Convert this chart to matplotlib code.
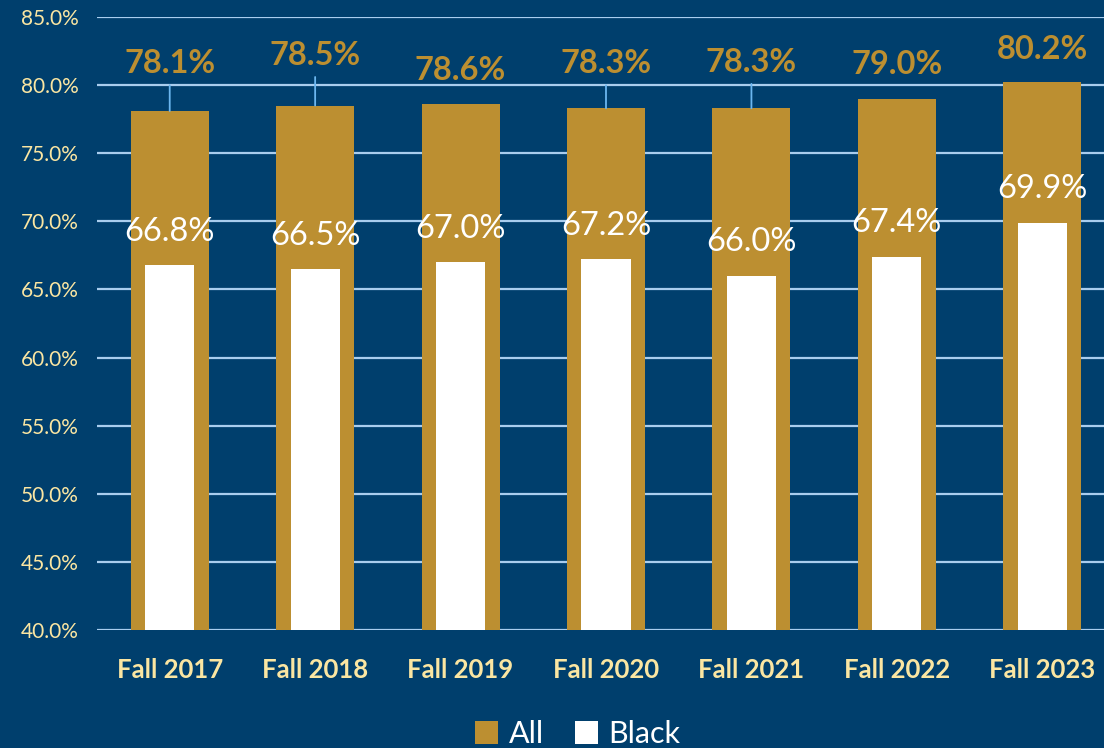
import matplotlib
matplotlib.use("Agg")
import matplotlib.pyplot as plt
from matplotlib.patches import Patch

categories = ["Fall 2017", "Fall 2018", "Fall 2019", "Fall 2020", "Fall 2021", "Fall 2022", "Fall 2023"]
all_vals = [78.1, 78.5, 78.6, 78.3, 78.3, 79.0, 80.2]
black_vals = [66.8, 66.5, 67.0, 67.2, 66.0, 67.4, 69.9]
yticks = [40, 45, 50, 55, 60, 65, 70, 75, 80, 85]

# label offsets (points above bar top) for the "All" labels, as placed in the original
all_label_offsets = [34, 36, 24.5, 32, 33, 24.5, 24]

BG = "#003F6D"
GOLD = "#BC8F31"
GRID = "#A9CDEE"
TICK = "#FBE6A2"
LEADER = "#6CB7F0"
FONT = "Lato"

plt.rcParams['font.family'] = [FONT, 'DejaVu Sans']

fig = plt.figure(figsize=(11.04, 7.48), dpi=100, facecolor=BG)
ax = fig.add_axes([97/1104, 1 - 630/748, 1 - 97/1104, (630 - 17)/748])
ax.set_facecolor(BG)

x = list(range(len(categories)))
ax.bar(x, [v - 40 for v in all_vals], bottom=40, width=0.536, color=GOLD, zorder=3)
ax.bar(x, [v - 40 for v in black_vals], bottom=40, width=0.337, color="white", zorder=4)

ax.set_ylim(40, 85)
ax.set_xlim(-0.5, 6.5 - 11/145.5)
ax.set_yticks(yticks)
ax.set_yticklabels([f"{t:.1f}%" for t in yticks], color=TICK, fontsize=15)
ax.set_xticks(x)
ax.set_xticklabels(categories, color=TICK, fontsize=18.5, fontweight='bold')
ax.tick_params(axis='both', length=0)
ax.tick_params(axis='x', pad=20)
ax.tick_params(axis='y', pad=13)
ax.grid(axis='y', color=GRID, linewidth=1.6, zorder=1)
for s in ax.spines.values():
    s.set_visible(False)

for i, (a, off) in enumerate(zip(all_vals, all_label_offsets)):
    kw = {}
    if off > 28:
        kw['arrowprops'] = dict(arrowstyle='-', color=LEADER, lw=1.3,
                                shrinkA=3, shrinkB=0, relpos=(0.5, 0.0))
    ax.annotate(f"{a:.1f}%", xy=(i, a), xytext=(0, off), textcoords='offset points',
                ha='center', va='center', color=GOLD, fontsize=23.5, fontweight='bold',
                zorder=6, **kw)

for i, b in enumerate(black_vals):
    ax.annotate(f"{b:.1f}%", xy=(i, b), xytext=(0, 24), textcoords='offset points',
                ha='center', va='center', color="white", fontsize=23.5, zorder=6)

handles = [Patch(facecolor=GOLD, edgecolor='none', label="All"),
           Patch(facecolor="white", edgecolor='none', label="Black")]
leg = fig.legend(handles=handles, loc='center', bbox_to_anchor=(0.5235, 1 - 734/748),
                 ncol=2, frameon=False, fontsize=22, handlelength=0.75, handleheight=0.75,
                 handletextpad=0.35, columnspacing=1.0, labelcolor='white')

fig.savefig("out.png", dpi=100, facecolor=BG)
